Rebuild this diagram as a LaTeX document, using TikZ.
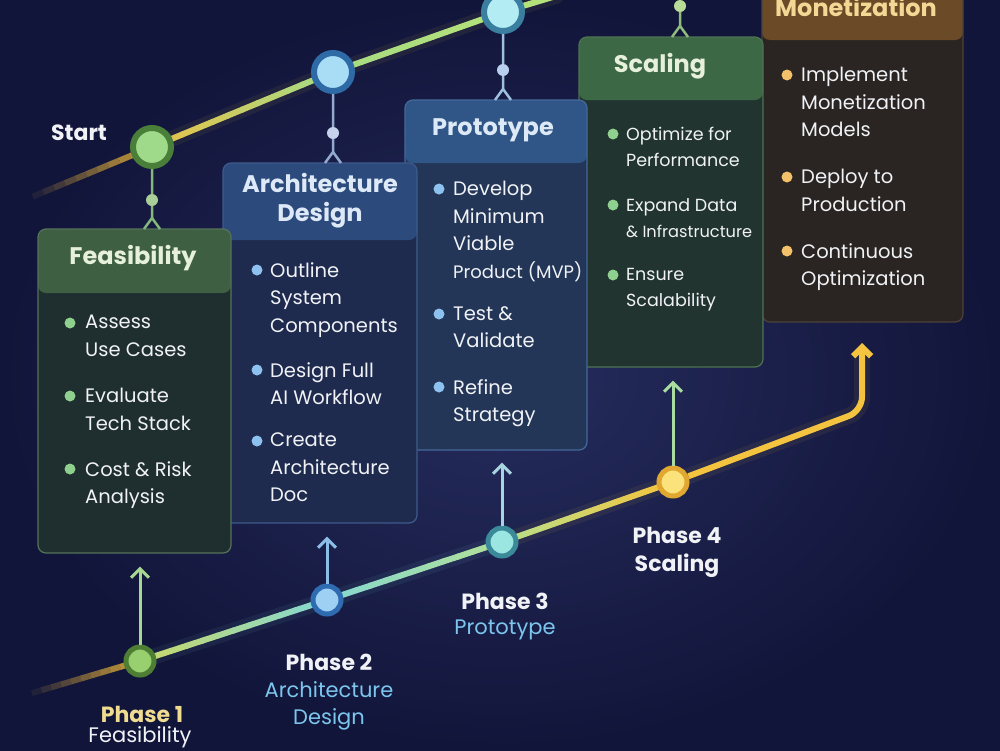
\documentclass[tikz,border=0pt]{standalone}
\usepackage{fontspec}
\setmainfont{Poppins}
\usetikzlibrary{calc, arrows.meta}

\definecolor{bgmid}{HTML}{262D5E}
\definecolor{bgedge}{HTML}{12153A}
\definecolor{ink}{HTML}{F0F2F6}
\definecolor{feasbody}{HTML}{1F2E2F}
\definecolor{feashead}{HTML}{3E5F42}
\definecolor{feasedge}{HTML}{55735A}
\definecolor{archbody}{HTML}{1F2B4E}
\definecolor{archhead}{HTML}{2C4A7C}
\definecolor{archedge}{HTML}{3E5A8C}
\definecolor{protobody}{HTML}{233657}
\definecolor{protohead}{HTML}{2F5686}
\definecolor{protoedge}{HTML}{45689A}
\definecolor{scalbody}{HTML}{213430}
\definecolor{scalhead}{HTML}{3D6845}
\definecolor{scaledge}{HTML}{4E7352}
\definecolor{monbody}{HTML}{2A2523}
\definecolor{monhead}{HTML}{6B4B27}
\definecolor{monedge}{HTML}{4D423A}
\definecolor{feastitle}{HTML}{E6F0DA}
\definecolor{archtitle}{HTML}{DDE9F7}
\definecolor{montitle}{HTML}{F3D795}
\definecolor{gbul}{HTML}{8FD08E}
\definecolor{bbul}{HTML}{8DC1F0}
\definecolor{obul}{HTML}{F2C16A}
\definecolor{gold}{HTML}{F4C440}
\definecolor{amber}{HTML}{D9A83A}
\definecolor{goldlt}{HTML}{E6C24A}
\definecolor{leaf}{HTML}{A8DA82}
\definecolor{limeg}{HTML}{B4E27A}
\definecolor{mint}{HTML}{86D8CF}
\definecolor{lime}{HTML}{C9D86A}
\definecolor{seafoam}{HTML}{B0E09A}
\definecolor{spring}{HTML}{B8E08A}
\definecolor{sky}{HTML}{7CC6EE}
\definecolor{pale}{HTML}{F0DC90}
\definecolor{startin}{HTML}{9FD98A}
\definecolor{startout}{HTML}{4A7F3A}
\definecolor{archin}{HTML}{A9DDF6}
\definecolor{archout}{HTML}{2E6AA6}
\definecolor{protoin}{HTML}{B4ECF4}
\definecolor{protoout}{HTML}{3A7FA0}
\definecolor{flink}{HTML}{86B77A}
\definecolor{fknotc}{HTML}{A8CF98}
\definecolor{alink}{HTML}{93A9CF}
\definecolor{aknotc}{HTML}{C6D2EC}
\definecolor{plink}{HTML}{9CC0DD}
\definecolor{pknotc}{HTML}{B8CFF0}
\definecolor{slink}{HTML}{8FBB7C}
\definecolor{sknotc}{HTML}{B8DC98}
\definecolor{onein}{HTML}{98D070}
\definecolor{oneout}{HTML}{4E7E34}
\definecolor{twoin}{HTML}{9ED0F4}
\definecolor{twoout}{HTML}{2F6BB0}
\definecolor{threein}{HTML}{9CE6E2}
\definecolor{threeout}{HTML}{3A8A9A}
\definecolor{fourin}{HTML}{FBE27A}
\definecolor{fourout}{HTML}{E0A830}
\definecolor{riseone}{HTML}{A8D890}
\definecolor{risetwo}{HTML}{8CBFE8}
\definecolor{risethree}{HTML}{A8D4E0}
\definecolor{risefour}{HTML}{A8DCA0}

\pgfdeclarelayer{bg}
\pgfdeclarelayer{trails}
\pgfsetlayers{bg,trails,main}

\tikzset{
    cardbox/.style n args={4}{rectangle, rounded corners=8pt, fill=#1, draw=#2, line width=1.2pt, inner sep=0pt,
        path picture={\fill[#3] (path picture bounding box.north west) rectangle ([yshift=-#4]path picture bounding box.north east);}},
    stage/.style 2 args={circle, fill=#1, draw=#2, line width=6pt, minimum size=38pt, inner sep=0pt},
    milestone/.style 2 args={circle, fill=#1, draw=#2, line width=5pt, minimum size=28pt, inner sep=0pt},
    knot/.style={circle, fill=#1, minimum size=12pt, inner sep=0pt},
    bullet/.style={circle, fill=#1, minimum size=11pt, inner sep=0pt},
    link/.style={draw=#1, line width=2.5pt},
    rise/.style={draw=#1, line width=3pt, -{Straight Barb[length=9pt, width=18pt]}},
    trail/.style={line width=6pt, line cap=round},
    glow/.style={line width=16pt, line cap=round, draw=#1, opacity=0.07},
    cardtitle/.style={font=\fontsize{24}{29}\selectfont\bfseries, align=center, inner sep=0pt, text=#1},
    item/.style={anchor=north west, align=left, inner sep=0pt, text=ink, font=\fontsize{19.5}{27.5}\selectfont},
    phase/.style={font=\fontsize{22}{28}\selectfont\bfseries, text=#1, inner sep=0pt},
    phasesub/.style={font=\fontsize{21}{27}\selectfont, text=#1, inner sep=0pt}
}

% colour run along a trail piece
\newcommand{\trailpart}[4]{%
    \foreach \k in {0,...,11}{
        \pgfmathtruncatemacro{\mix}{100-\k*100/11}
        \draw[trail, #3!\mix!#4] ($(#1)!\k/12!(#2)$) -- ($(#1)!\k/12+1/12!(#2)$);
    }}
\newcommand{\fadepart}[3]{%
    \foreach \k in {0,...,11}{
        \draw[trail, line cap=butt, #3, opacity=\k/12] ($(#1)!\k/12!(#2)$) -- ($(#1)!\k/12+1/12!(#2)$);
    }}

\begin{document}
\begin{tikzpicture}[x=1pt, y=-1pt]
\useasboundingbox (0,0) rectangle (1000,750);
\begin{pgfonlayer}{bg}
\shade[inner color=bgmid, outer color=bgedge] (0,0) rectangle (1000,750);
\end{pgfonlayer}

% cards, back to front
\node[cardbox={monbody}{monedge}{monhead}{60pt}, minimum width=201pt, minimum height=342pt] (mon) at (862.5,151) {};
\node[cardbox={scalbody}{scaledge}{scalhead}{63pt}, minimum width=184pt, minimum height=330pt] (scal) at (671,202) {};
\node[cardbox={protobody}{protoedge}{protohead}{63pt}, minimum width=182pt, minimum height=350pt] (proto) at (496,275) {};
\node[cardbox={archbody}{archedge}{archhead}{77pt}, minimum width=194pt, minimum height=360pt] (arch) at (320,343) {};
\node[cardbox={feasbody}{feasedge}{feashead}{64pt}, minimum width=193pt, minimum height=324pt] (feas) at (134.5,391) {};

% titles
\node[cardtitle=feastitle] (feastitle) at (133,258) {Feasibility};
\node[cardtitle=archtitle] (archtitle) at (320,201) {Architecture\\Design};
\node[cardtitle=archtitle] (prototitle) at (493,130) {Prototype};
\node[cardtitle=feastitle] (scaltitle) at (660,66) {Scaling};
\node[cardtitle=montitle] (montitle) at (856,7) {Monetization};

% feasibility items
\node[bullet=gbul] at (70,323) {};
\node[item] (f1) at (85,315) {Assess\\Use Cases};
\node[bullet=gbul] at (70,396) {};
\node[item] (f2) at (85,388) {Evaluate\\Tech Stack};
\node[bullet=gbul] at (70,469) {};
\node[item] (f3) at (85,461) {Cost \& Risk\\Analysis};

% architecture items
\node[bullet=bbul] at (257,270) {};
\node[item] (a1) at (270,262) {Outline\\System\\Components};
\node[bullet=bbul] at (257,370) {};
\node[item] (a2) at (270,362) {Design Full\\AI Workflow};
\node[bullet=bbul] at (257,441) {};
\node[item] (a3) at (270,433) {Create\\Architecture\\Doc};

% prototype items
\node[bullet=bbul] at (439,189) {};
\node[item] (p1) at (453,181) {Develop\\Minimum\\Viable\\{\fontsize{18}{27.5}\selectfont Product (MVP)}};
\node[bullet=bbul] at (439,314) {};
\node[item] (p2) at (453,306) {Test \&\\Validate};
\node[bullet=bbul] at (439,387) {};
\node[item] (p3) at (453,379) {Refine\\Strategy};

% scaling items
\node[bullet=gbul] at (613,134) {};
\node[item, font=\fontsize{17.5}{26}\selectfont] (s1) at (626,127) {Optimize for\\Performance};
\node[bullet=gbul] at (613,205) {};
\node[item, font=\fontsize{17.5}{26}\selectfont] (s2) at (626,198) {Expand Data\\{\fontsize{16.2}{26}\selectfont\& Infrastructure}};
\node[bullet=gbul] at (613,275) {};
\node[item, font=\fontsize{17.5}{26}\selectfont] (s3) at (626,268) {Ensure\\Scalability};

% monetization items
\node[bullet=obul] at (787,75) {};
\node[item] (m1) at (801,67) {Implement\\Monetization\\Models};
\node[bullet=obul] at (787,177) {};
\node[item] (m2) at (801,169) {Deploy to\\Production};
\node[bullet=obul] at (787,251) {};
\node[item] (m3) at (801,243) {Continuous\\Optimization};

% top trail
\coordinate (tstart) at (22,201);
\coordinate (tend) at (556,-4);
\node[stage={startin}{startout}] (start) at (152,147) {};
\node[stage={archin}{archout}] (archpt) at (333,72) {};
\node[stage={protoin}{protoout}] (protopt) at (503,12) {};
\node[font=\fontsize{22}{26}\selectfont\bfseries, text=ink] (startlbl) at (79,133) {Start};
\begin{pgfonlayer}{trails}
\draw[glow=goldlt] (start.center) -- (archpt.center) -- (protopt.center) -- (tend);
\fadepart{tstart}{start}{amber}
\trailpart{start}{archpt}{goldlt}{leaf}
\trailpart{archpt}{protopt}{leaf}{limeg}
\draw[trail, limeg] (protopt) -- (tend);
\end{pgfonlayer}

% top connectors
\node[knot=fknotc] (fknot) at (152,200) {};
\coordinate (ffork) at (152,218);
\draw[link=flink] (start) -- (fknot) -- (ffork) -- ++(-8,11);
\draw[link=flink] (ffork) -- ++(8,11);
\node[knot=aknotc] (aknot) at (333,133) {};
\coordinate (afork) at (333,152);
\draw[link=alink] (archpt) -- (aknot) -- (afork) -- ++(-8,11);
\draw[link=alink] (afork) -- ++(8,11);
\node[knot=pknotc] (pknot) at (503,70) {};
\coordinate (pfork) at (503,89);
\draw[link=plink] (protopt) -- (pknot) -- (pfork) -- ++(-8,11);
\draw[link=plink] (pfork) -- ++(8,11);
\node[knot=sknotc] (sknot) at (680,6) {};
\coordinate (sfork) at (680,26);
\draw[link=slink] (sknot) -- (sfork) -- ++(-8,11);
\draw[link=slink] (sfork) -- ++(8,11);

% bottom trail
\coordinate (bstart) at (22,696);
\coordinate (bend) at (862,343);
\node[milestone={onein}{oneout}] (ph1) at (140,661) {};
\node[milestone={twoin}{twoout}] (ph2) at (327,600) {};
\node[milestone={threein}{threeout}] (ph3) at (502,542) {};
\node[milestone={fourin}{fourout}] (ph4) at (673,482) {};
\begin{pgfonlayer}{trails}
\draw[glow=mint] (ph1.center) -- (ph2.center) -- (ph3.center);
\draw[glow=gold, rounded corners=14pt] (ph3.center) -- (ph4.center) -- (862,411) -- (862,360);
\fadepart{bstart}{ph1}{amber}
\trailpart{ph1}{ph2}{lime}{mint}
\trailpart{ph2}{ph3}{mint}{seafoam}
\trailpart{ph3}{ph4}{spring}{gold}
\end{pgfonlayer}
\draw[trail, gold, line cap=butt, rounded corners=14pt, -{Straight Barb[length=9pt, width=18pt]}] (ph4) -- (862,411) -- (bend);

% arrows up to the cards
\draw[rise=riseone] (ph1) -- ([yshift=-13pt]ph1 |- feas.south);
\draw[rise=risetwo] (ph2) -- ([yshift=-13pt]ph2 |- arch.south);
\draw[rise=risethree] (ph3) -- ([yshift=-12pt]ph3 |- proto.south);
\draw[rise=risefour] (ph4) -- ([yshift=-13pt]ph4 |- scal.south);

% phase labels
\node[phase=pale] (lbl1) at (142,714) {Phase 1};
\node[phasesub=ink] (sub1) at (140,737) {Feasibility};
\node[phase=ink] (lbl2) at (329,662) {Phase 2};
\node[phasesub=sky, align=center] (sub2) at (329,706) {Architecture\\Design};
\node[phase=ink] (lbl3) at (505,601) {Phase 3};
\node[phasesub=sky] (sub3) at (505,630) {Prototype};
\node[phase=ink, align=center] (lbl4) at (677,552) {Phase 4\\Scaling};
\end{tikzpicture}
\end{document}
